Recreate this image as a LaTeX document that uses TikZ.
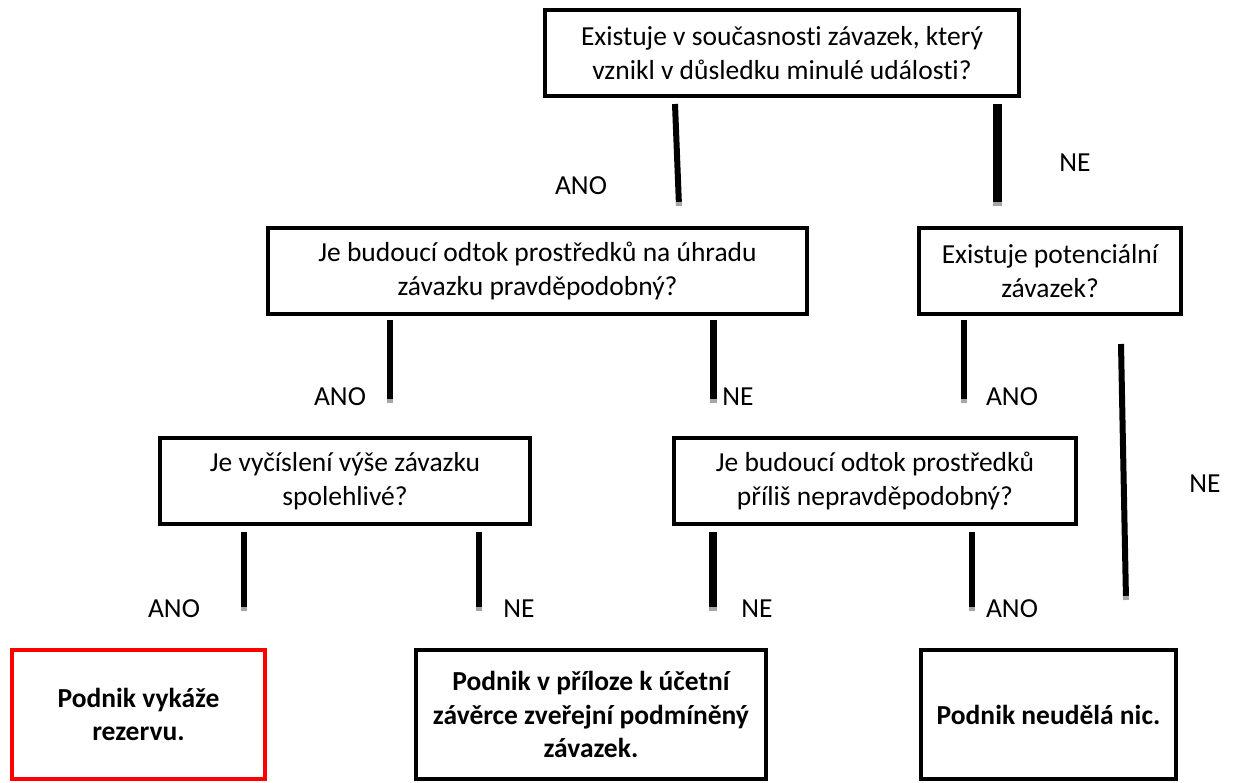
\documentclass[tikz,border=0pt]{standalone}
\usepackage{fontspec}
\setmainfont{Carlito}[Ligatures=NoCommon]
\usetikzlibrary{calc}
\tikzset{
  box/.style={draw=black, line width=4pt, inner sep=0pt, align=center, fill=white,
    font=\fontsize{27.5}{33.5}\selectfont},
  endbox/.style={box, font=\fontsize{27.5}{33.5}\selectfont\bfseries},
  lab/.style={inner sep=0pt, anchor=base, font=\fontsize{27.5}{33.5}\selectfont},
  conn/.style={draw=black},
  conntip/.style={draw=black!35}
}
\begin{document}
\begin{tikzpicture}[x=1pt,y=-1pt]
\useasboundingbox (0,0) rectangle (1235,783);
% question boxes
\node[box, minimum width=474pt, minimum height=86pt] (q1) at (782,53)
  {Existuje v současnosti závazek, který\\vznikl v důsledku minulé události?};
\node[box, minimum width=539pt, minimum height=86pt] (q2) at (537.5,271)
  {Je budoucí odtok prostředků na úhradu\\závazku pravděpodobný?};
\node[box, minimum width=262pt, minimum height=86pt] (q3) at (1050,271)
  {Existuje potenciální\\závazek?};
\node[box, minimum width=370pt, minimum height=86pt] (q4) at (345,481)
  {Je vyčíslení výše závazku\\spolehlivé?};
\node[box, minimum width=402pt, minimum height=86pt] (q5) at (875,481)
  {Je budoucí odtok prostředků\\příliš nepravděpodobný?};
% result boxes
\node[endbox, draw=red, minimum width=253pt, minimum height=129pt] (r1) at (138.5,714.5)
  {Podnik vykáže\\rezervu.};
\node[endbox, minimum width=350pt, minimum height=129pt] (r2) at (591,714.5)
  {Podnik v příloze k účetní\\závěrce zveřejní podmíněný\\závazek.};
\node[endbox, minimum width=255pt, minimum height=129pt] (r3) at (1048.5,714.5)
  {Podnik neudělá nic.};
% connector end points
\coordinate (t1) at (675,104);  \coordinate (b1) at (679,206);
\coordinate (t2) at (997,104);  \coordinate (b2) at (997,206);
\coordinate (t3) at (390,320);  \coordinate (b3) at (390,403);
\coordinate (t4) at (713,320);  \coordinate (b4) at (713,403);
\coordinate (t5) at (964,320);  \coordinate (b5) at (964,403);
\coordinate (t6) at (1121,344); \coordinate (b6) at (1126,600);
\coordinate (t7) at (244,532);  \coordinate (b7) at (244,611);
\coordinate (t8) at (479,532);  \coordinate (b8) at (479,611);
\coordinate (t9) at (713,532);  \coordinate (b9) at (713,611);
\coordinate (t10) at (972,532); \coordinate (b10) at (972,611);
\foreach \n/\w in {1/6,2/9,3/6,4/7,5/6,6/6,7/6,8/6,9/8,10/6}{
  \draw[conn, line width=\w pt] (t\n) -- ($(b\n)!4pt!(t\n)$);
  \draw[conntip, line width=\w pt] ($(b\n)!4pt!(t\n)$) -- (b\n);
}
% labels
\node[lab] (l1) at (581,195) {ANO};
\node[lab] (l2) at (1075,172) {NE};
\node[lab] (l3) at (340,406) {ANO};
\node[lab] (l4) at (738,406) {NE};
\node[lab] (l5) at (1012,406) {ANO};
\node[lab] (l6) at (1205,493) {NE};
\node[lab] (l7) at (174,617) {ANO};
\node[lab] (l8) at (519,617) {NE};
\node[lab] (l9) at (757,617) {NE};
\node[lab] (l10) at (1012,617) {ANO};
\end{tikzpicture}
\end{document}
